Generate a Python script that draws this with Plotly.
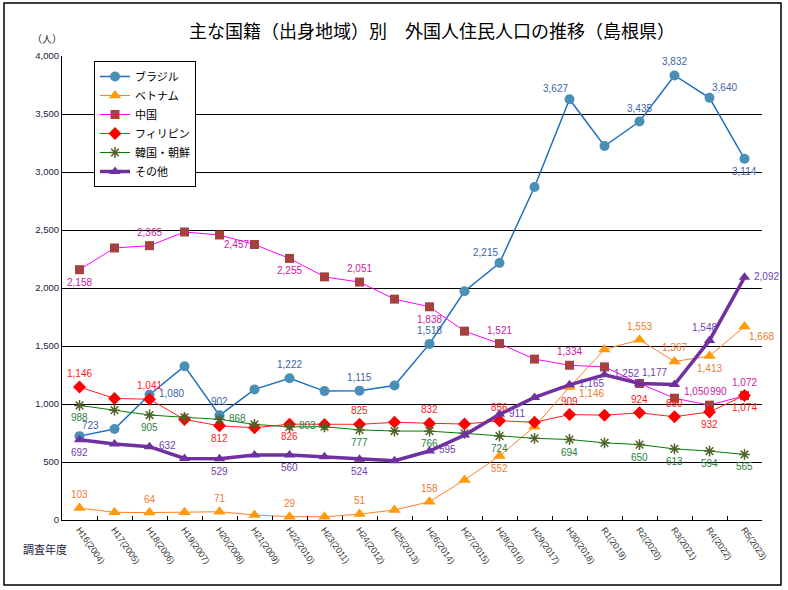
import plotly.graph_objects as go

categories = ["H16(2004)", "H17(2005)", "H18(2006)", "H19(2007)", "H20(2008)",
              "H21(2009)", "H22(2010)", "H23(2011)", "H24(2012)", "H25(2013)",
              "H26(2014)", "H27(2015)", "H28(2016)", "H29(2017)", "H30(2018)",
              "R1(2019)", "R2(2020)", "R3(2021)", "R4(2022)", "R5(2023)"]

brazil = [723, 785, 1080, 1326, 902, 1126, 1222, 1111, 1115, 1160, 1518, 1972, 2215, 2871, 3627, 3224, 3435, 3832, 3640, 3114]
vietnam = [103, 66, 64, 66, 71, 43, 29, 28, 51, 86, 158, 345, 552, 804, 1146, 1470, 1553, 1367, 1413, 1668]
china = [2158, 2345, 2365, 2483, 2457, 2375, 2255, 2096, 2051, 1904, 1838, 1628, 1521, 1387, 1334, 1320, 1177, 1050, 990, 1072]
philippines = [1146, 1048, 1041, 867, 812, 795, 826, 824, 825, 842, 832, 827, 856, 842, 909, 904, 924, 890, 932, 1074]
korea = [988, 947, 905, 885, 868, 824, 803, 804, 777, 767, 766, 747, 724, 704, 694, 665, 650, 613, 594, 565]
others = [692, 655, 632, 531, 529, 560, 560, 545, 524, 511, 595, 732, 911, 1057, 1165, 1252, 1177, 1168, 1548, 2092]

series_names = ["ブラジル", "ベトナム", "中国", "フィリピン", "韓国・朝鮮", "その他"]

# label positions per point (None = no label)
pos_brazil = ["top right", None, "middle right", None, "top center", None, "top center", None, "top center", None,
              "top center", None, "top left", None, "top left", None, "top center", "top center", "top right", "bottom center"]
pos_vietnam = ["top center", None, "top center", None, "top center", None, "top center", None, "top center", None,
               "top center", None, "bottom center", None, "low right", None, "top center", "top center", "bottom center", "bottom right"]
pos_china = ["bottom center", None, "top center", None, "bottom right", None, "bottom center", None, "top center", None,
             "bottom center", None, "top center", None, "top center", None, None, "far right", "top rightish", "top center"]
pos_phil = ["top center", None, "top center", None, "bottom center", None, "bottom center", None, "top center", None,
            "top center", None, "top center", None, "top center", None, "top center", "top center", "bottom center", "bottom center"]
pos_korea = ["bottom center", None, "bottom center", None, "middle right", None, "middle right", None, "bottom center", None,
             "bottom center", None, "bottom center", None, "bottom center", None, "bottom center", "bottom center", "bottom center", "bottom center"]
pos_others = ["bottom center", None, "middle right", None, "bottom center", None, "bottom center", None, "bottom center", None,
              "middle right", None, "middle right", None, "middle right", "middle right", "top right", None, "top leftish", "middle right"]

styles = [
    dict(line=dict(color="#1f6fc0", width=1.5), marker=dict(symbol="circle", size=10, color="#4a8fb5"), tc="#3d63a8"),
    dict(line=dict(color="#ff7f27", width=1), marker=dict(symbol="triangle-up", size=11, color="#ff9a0a"), tc="#f07a30"),
    dict(line=dict(color="#ff00ff", width=1), marker=dict(symbol="square", size=9, color="#a5423f"), tc="#cc1aa0"),
    dict(line=dict(color="#ff2020", width=1), marker=dict(symbol="diamond", size=10, color="#ff0000"), tc="#ff1a1a"),
    dict(line=dict(color="#008000", width=1), marker=dict(symbol="asterisk-open", size=9, color="#4f6228", line=dict(width=1.5, color="#4f6228")), tc="#2e8040"),
    dict(line=dict(color="#7030a0", width=3.5), marker=dict(symbol="triangle-up", size=10, color="#7030a0"), tc="#7040b0"),
]

all_vals = [brazil, vietnam, china, philippines, korea, others]
all_pos = [pos_brazil, pos_vietnam, pos_china, pos_phil, pos_korea, pos_others]

# position -> (xanchor, yanchor, xshift, yshift)
placement = {
    "top center": ("center", "bottom", 0, 7),
    "bottom center": ("center", "top", 0, -6),
    "middle right": ("left", "middle", 8, 1),
    "middle left": ("right", "middle", -7, 0),
    "top right": ("left", "bottom", 1, 4),
    "top left": ("right", "bottom", -1, 4),
    "top leftish": ("center", "bottom", -5, 6),
    "top rightish": ("center", "bottom", 9, 7),
    "bottom right": ("left", "top", 3, -3),
    "low right": ("left", "top", 8, 0),
    "far right": ("left", "middle", 8, 7),
}

fig = go.Figure()
for name, vals, st in zip(series_names, all_vals, styles):
    fig.add_trace(go.Scatter(x=categories, y=vals, name=name, mode="lines+markers",
                             line=st["line"], marker=st["marker"], hoverinfo="skip"))

annotations = []
for vals, poss, st in zip(all_vals, all_pos, styles):
    for c, v, p in zip(categories, vals, poss):
        if p is None:
            continue
        xa, ya, xs, ys = placement[p]
        annotations.append(dict(x=c, y=v, xref="x", yref="y", text=f"{v:,}", showarrow=False,
                                xanchor=xa, yanchor=ya, xshift=xs, yshift=ys, borderpad=0,
                                font=dict(family="Liberation Sans, Arial", size=10, color=st["tc"])))

L, R, T, B = 62, 762, 56, 520
W, H = 788, 590

def px_x(x):
    return (x - L) / (R - L)

def px_y(y):
    return (B - y) / (B - T)

annotations += [
    dict(text="（人）", x=px_x(47), y=px_y(38), xref="paper", yref="paper",
         showarrow=False, xanchor="center", yanchor="middle",
         font=dict(family="Noto Sans CJK JP", size=10, color="#1a1a40")),
    dict(text="調査年度", x=px_x(45), y=px_y(549), xref="paper", yref="paper",
         showarrow=False, xanchor="center", yanchor="middle",
         font=dict(family="Noto Sans CJK JP", size=11, color="#1a1a40")),
]

fig.update_layout(
    width=W, height=H,
    margin=dict(l=L, r=W - R, t=T, b=H - B),
    paper_bgcolor="white", plot_bgcolor="white",
    showlegend=True,
    legend=dict(x=px_x(94), y=px_y(61), xanchor="left", yanchor="top",
                bgcolor="white", bordercolor="black", borderwidth=1,
                font=dict(family="Noto Sans CJK JP", size=11, color="black"),
                tracegroupgap=0, itemwidth=30),
    title=dict(text="主な国籍（出身地域）別　外国人住民人口の推移（島根県）",
               x=px_x(432), xref="paper", xanchor="center",
               y=1 - 32 / H, yref="container", yanchor="middle",
               font=dict(family="Noto Sans CJK JP", size=18, color="black")),
    xaxis=dict(type="category", showgrid=False, showline=True, linecolor="black", linewidth=1,
               ticks="inside", ticklen=4, tickcolor="black", tickson="boundaries",
               tickangle=55, tickfont=dict(family="Liberation Sans, Arial", size=9, color="#333333"),
               range=[-0.5, len(categories) - 0.5]),
    yaxis=dict(range=[0, 4000], dtick=500, tickformat=",d", showgrid=True, gridcolor="black", gridwidth=1,
               showline=True, linecolor="black", linewidth=1, zeroline=False,
               ticks="", tickfont=dict(family="Liberation Sans, Arial", size=9.5, color="#1a1a40")),
    shapes=[dict(type="rect", xref="paper", yref="paper",
                 x0=px_x(4), x1=px_x(781), y0=px_y(585), y1=px_y(3),
                 line=dict(color="black", width=1.5), fillcolor="rgba(0,0,0,0)", layer="below")],
    annotations=annotations,
)

fig.write_html("out.html", config={"displayModeBar": False},
               post_script="document.body.style.margin='0';document.body.style.overflow='hidden';")
